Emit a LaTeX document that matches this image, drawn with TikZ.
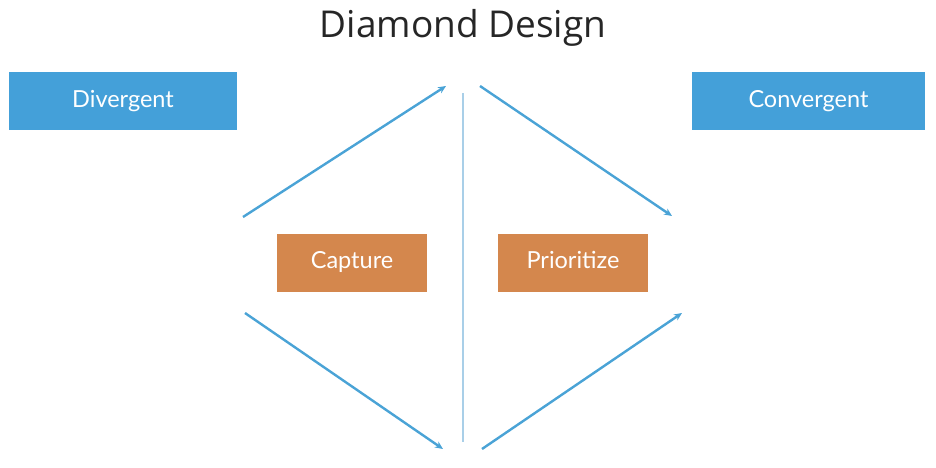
\documentclass[tikz,border=0pt]{standalone}
\usepackage{fontspec}
\setmainfont{Open Sans}
\newfontfamily\boxfont{Lato}
\usetikzlibrary{arrows.meta}
\definecolor{divblue}{HTML}{44A0D9}
\definecolor{arrblue}{HTML}{4AA3D6}
\definecolor{midblue}{HTML}{A9CFE8}
\definecolor{capor}{HTML}{D4874D}

\begin{document}
\begin{tikzpicture}[x=1pt,y=-1pt,
  phasebox/.style={fill=divblue,text=white,font=\boxfont\fontsize{23.5}{26}\selectfont,minimum width=228pt,minimum height=57pt,inner sep=0pt,text height=17pt,text depth=5pt},
  stepbox/.style={phasebox,fill=capor,minimum width=150pt,minimum height=58pt},
  flow/.style={draw=arrblue,line width=2.4pt,-{Stealth[length=8pt,width=7pt]}}]
\useasboundingbox (0,0) rectangle (936,468);
\node[font=\fontsize{37}{42}\selectfont,text=black!85,anchor=base] (title) at (463,38) {Diamond Design};
\node[phasebox] (div) at (123,101) {Divergent};
\node[phasebox,minimum width=233pt] (conv) at (808.5,101) {Convergent};
\node[stepbox] (cap) at (352,262.5) {Capture};
\node[stepbox] (prio) at (573,262.5) {Prioritize};
% arrow ends
\coordinate (l1) at (243,217);
\coordinate (t1) at (446,86);
\coordinate (t2) at (480,86);
\coordinate (r1) at (672,216);
\coordinate (l2) at (245,313);
\coordinate (b1) at (443,449);
\coordinate (b2) at (482,449);
\coordinate (r2) at (682,313);
\coordinate (mtop) at (463,93);
\coordinate (mbot) at (463,442);
\draw[midblue,line width=2.4pt] (mtop) -- (mbot);
\draw[flow] (l1) -- (t1);
\draw[flow] (t2) -- (r1);
\draw[flow] (l2) -- (b1);
\draw[flow] (b2) -- (r2);
\end{tikzpicture}
\end{document}
